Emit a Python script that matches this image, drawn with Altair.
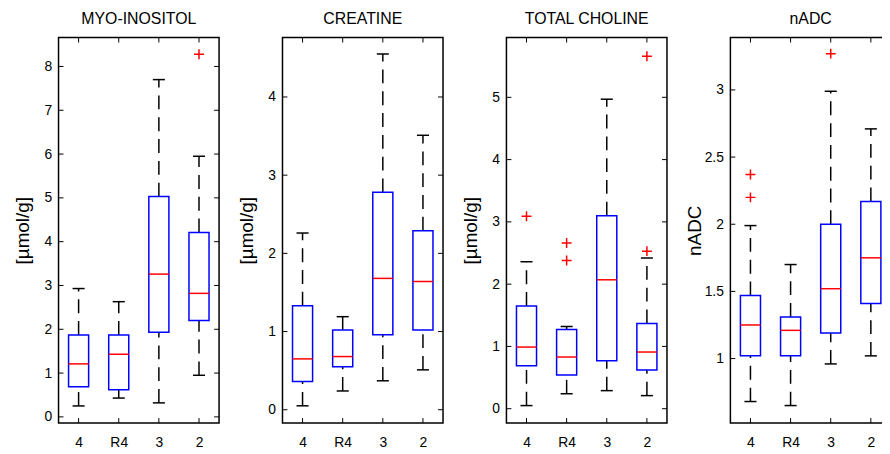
import altair as alt
import pandas as pd

groups = ["4", "R4", "3", "2"]
positions = [1, 2, 3, 4]

# MYO-INOSITOL
myo_lo = [0.25, 0.43, 0.32, 0.95]
myo_q1 = [0.69, 0.62, 1.93, 2.20]
myo_med = [1.21, 1.43, 3.26, 2.82]
myo_q3 = [1.87, 1.87, 5.03, 4.21]
myo_hi = [2.93, 2.63, 7.70, 5.95]
myo_out_pos = [4]
myo_out_val = [8.28]
myo_ticks = [0, 1, 2, 3, 4, 5, 6, 7, 8]

# CREATINE
cr_lo = [0.05, 0.24, 0.37, 0.51]
cr_q1 = [0.36, 0.55, 0.96, 1.02]
cr_med = [0.65, 0.68, 1.68, 1.64]
cr_q3 = [1.33, 1.02, 2.78, 2.29]
cr_hi = [2.26, 1.19, 4.55, 3.51]
cr_out_pos = []
cr_out_val = []
cr_ticks = [0, 1, 2, 3, 4]

# TOTAL CHOLINE
ch_lo = [0.05, 0.24, 0.29, 0.21]
ch_q1 = [0.69, 0.54, 0.77, 0.62]
ch_med = [0.99, 0.83, 2.07, 0.91]
ch_q3 = [1.65, 1.27, 3.10, 1.37]
ch_hi = [2.36, 1.32, 4.97, 2.42]
ch_out_pos = [1, 2, 2, 4, 4]
ch_out_val = [3.09, 2.66, 2.38, 5.66, 2.53]
ch_ticks = [0, 1, 2, 3, 4, 5]

# nADC
adc_lo = [0.68, 0.65, 0.96, 1.02]
adc_q1 = [1.02, 1.02, 1.19, 1.41]
adc_med = [1.25, 1.21, 1.52, 1.75]
adc_q3 = [1.47, 1.31, 2.00, 2.17]
adc_hi = [1.99, 1.70, 2.99, 2.71]
adc_out_pos = [1, 1, 3]
adc_out_val = [2.37, 2.20, 3.27]
adc_ticks = [1, 1.5, 2, 2.5, 3]

W = 162
H = 389
FONT = "Liberation Sans"
label_expr = "['4','R4','3','2'][datum.value - 1]"


def make_panel(title, ytitle, lo, q1, med, q3, hi, out_pos, out_val, ydom, yticks):
    df = pd.DataFrame({"pos": positions, "g": groups, "lo": lo, "q1": q1,
                       "med": med, "q3": q3, "hi": hi})
    xscale = alt.Scale(domain=[0.5, 4.5], nice=False, zero=False)
    yscale = alt.Scale(domain=ydom, nice=False, zero=False)
    xaxis = alt.Axis(values=positions, labelExpr=label_expr, grid=False, ticks=False,
                     tickSize=0, domain=False, labelPadding=13, labelFontSize=14,
                     labelFont=FONT, labelColor="black", title=None)
    yaxis = alt.Axis(values=yticks, labelExpr="'' + datum.value", grid=False,
                     ticks=False, tickSize=0, domain=False,
                     labelPadding=7, labelFontSize=14, labelFont=FONT, labelColor="black",
                     title=ytitle, titleFontSize=19, titleFont=FONT, titleFontWeight="normal",
                     titleColor="black", titleX=-26)

    def X(field):
        return alt.X(field, type="quantitative", scale=xscale, axis=xaxis)

    def Y(field):
        return alt.Y(field, type="quantitative", scale=yscale, axis=yaxis)

    base = alt.Chart(df).transform_calculate(
        bx1="datum.pos - 0.25", bx2="datum.pos + 0.25",
        cx1="datum.pos - 0.15", cx2="datum.pos + 0.15")

    wh_up = base.mark_rule(color="black", strokeWidth=1.5, strokeDash=[14, 8]).encode(
        x=X("pos"), y=Y("q3"), y2="hi")
    wh_dn = base.mark_rule(color="black", strokeWidth=1.5, strokeDash=[14, 8]).encode(
        x=X("pos"), y=Y("lo"), y2="q1")
    cap_up = base.mark_rule(color="black", strokeWidth=1.5).encode(
        x=X("cx1:Q"), x2="cx2:Q", y=Y("hi"))
    cap_dn = base.mark_rule(color="black", strokeWidth=1.5).encode(
        x=X("cx1:Q"), x2="cx2:Q", y=Y("lo"))
    box = base.mark_rect(fillOpacity=0, stroke="#0000ff", strokeWidth=1.5).encode(
        x=X("bx1:Q"), x2="bx2:Q", y=Y("q1"), y2="q3")
    median = base.mark_rule(color="#ff0000", strokeWidth=1.5).encode(
        x=X("bx1:Q"), x2="bx2:Q", y=Y("med"))

    tdf = pd.DataFrame({"v": yticks})
    lt = alt.Chart(tdf).mark_rule(color="black", strokeWidth=1).encode(
        y=Y("v"), x=alt.value(0), x2=alt.value(5))
    rt = alt.Chart(tdf).mark_rule(color="black", strokeWidth=1).encode(
        y=Y("v"), x=alt.value(W - 5), x2=alt.value(W))
    pdf = pd.DataFrame({"p": positions})
    tt = alt.Chart(pdf).mark_rule(color="black", strokeWidth=1).encode(
        x=X("p"), y=alt.value(0), y2=alt.value(5))
    bt = alt.Chart(pdf).mark_rule(color="black", strokeWidth=1).encode(
        x=X("p"), y=alt.value(H - 5), y2=alt.value(H))

    layers = [lt, rt, tt, bt, wh_up, wh_dn, cap_up, cap_dn, box, median]
    if out_pos:
        odf = pd.DataFrame({"pos": out_pos, "val": out_val})
        outl = alt.Chart(odf).mark_point(shape="M-1,0L1,0M0,-1L0,1", size=100,
                                         filled=False, color="#ff0000",
                                         strokeWidth=1.5, opacity=1).encode(
            x=X("pos"), y=Y("val"))
        layers.append(outl)

    return alt.layer(*layers).properties(
        width=W, height=H,
        title=alt.TitleParams(title, fontSize=16, font=FONT, fontWeight="normal",
                              color="black", anchor="middle", frame="group",
                              baseline="alphabetic", offset=10, dy=13))


p1 = make_panel("MYO-INOSITOL", "[µmol/g]", myo_lo, myo_q1, myo_med, myo_q3, myo_hi,
                myo_out_pos, myo_out_val, [-0.14, 8.66], myo_ticks)
p2 = make_panel("CREATINE", "[µmol/g]", cr_lo, cr_q1, cr_med, cr_q3, cr_hi,
                cr_out_pos, cr_out_val, [-0.17, 4.76], cr_ticks)
p3 = make_panel("TOTAL CHOLINE", "[µmol/g]", ch_lo, ch_q1, ch_med, ch_q3, ch_hi,
                ch_out_pos, ch_out_val, [-0.23, 5.96], ch_ticks)
p4 = make_panel("nADC", "nADC", adc_lo, adc_q1, adc_med, adc_q3, adc_hi,
                adc_out_pos, adc_out_val, [0.52, 3.39], adc_ticks)

chart = alt.hconcat(p1, p2, p3, p4, spacing=64, bounds="flush").properties(
    autosize=alt.AutoSizeParams(type="none"),
    padding={"left": 51, "top": 26, "right": 831, "bottom": 420},
    background="white",
).configure_view(stroke="black", strokeWidth=1.5)

chart.save("out.html", embed_options={"renderer": "svg", "actions": False})
